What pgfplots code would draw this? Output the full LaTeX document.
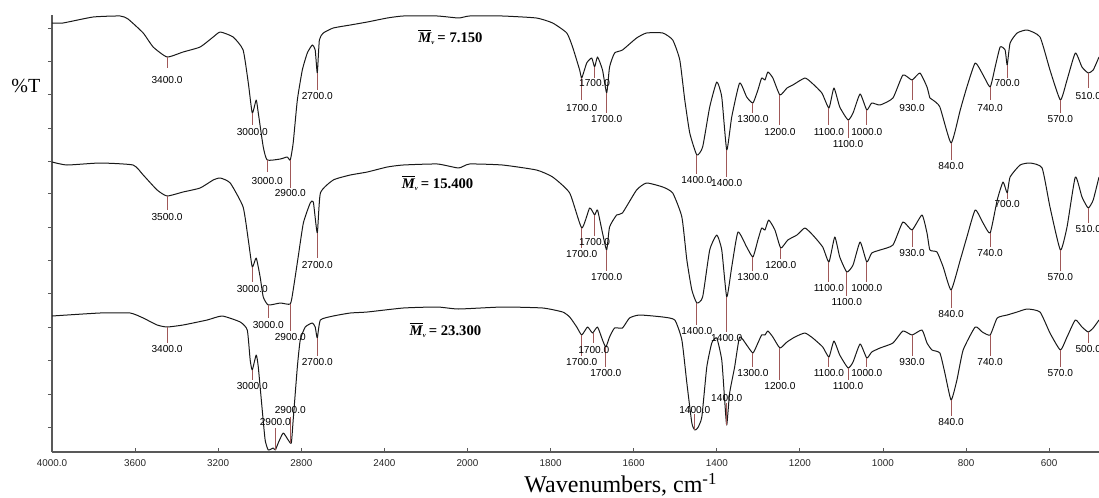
\documentclass[border=0pt]{standalone}
\usepackage{fontspec}
\setmainfont{Liberation Serif}
\newfontfamily\tah{Liberation Sans}
\usepackage{pgfplots}
\pgfplotsset{compat=1.18}
\usepackage{pgfplotstable}
\definecolor{annot}{RGB}{160,88,88}

% trace 1 (Mv = 7.150): wavenumber, offset transmittance
\pgfplotstableread{
w y
4000 429
3947 429
3802 435
3672 436
3634 433
3561 419
3513 405
3446 395
3369 400
3287 405
3224 415
3190 420
3128 415
3080 402
3055 369
3036 339
3017 352
3007 339
2983 305
2964 292
2901 293
2868 295
2853 292
2839 309
2819 352
2795 382
2771 399
2747 407
2733 402
2723 379
2713 412
2694 419
2646 424
2564 427
2482 430
2386 434
2309 436
2145 436
2043 434
1995 436
1916 436
1834 434
1795 429
1761 419
1747 405
1730 382
1725 374
1713 389
1701 394
1694 385
1687 395
1675 382
1665 359
1658 385
1646 399
1627 402
1593 414
1569 419
1530 419
1506 412
1489 392
1477 352
1465 319
1448 297
1434 305
1417 345
1400 370
1388 355
1376 302
1364 335
1345 369
1328 355
1313 349
1301 362
1292 374
1284 372
1277 380
1265 374
1248 357
1231 364
1217 367
1188 374
1171 369
1147 359
1130 344
1118 364
1104 345
1084 332
1072 339
1055 358
1039 342
1027 349
1007 347
976 354
952 377
930 372
911 379
894 365
887 354
880 352
863 345
836 309
814 342
798 365
778 389
759 377
742 365
730 385
718 405
706 402
701 387
694 409
677 419
653 422
622 415
598 382
573 352
557 372
537 399
521 385
506 379
494 382
480 395
}\tA

% trace 2 (Mv = 15.400)
\pgfplotstableread{
w y
4000 290
3928 287
3769 289
3610 287
3561 277
3494 262
3446 256
3369 260
3287 264
3224 272
3190 274
3142 269
3080 245
3055 212
3036 185
3017 194
2998 175
2983 155
2959 147
2901 149
2853 148
2839 162
2815 195
2790 229
2757 249
2742 250
2723 219
2708 259
2646 272
2564 277
2482 280
2386 285
2309 287
2145 288
2043 284
1995 288
1916 287
1834 282
1795 275
1754 259
1725 224
1706 244
1694 237
1687 242
1675 219
1665 202
1658 225
1641 237
1627 239
1593 262
1569 269
1530 265
1506 259
1484 235
1472 192
1460 162
1448 149
1434 155
1417 202
1400 217
1388 202
1376 155
1364 185
1349 220
1328 205
1313 195
1301 212
1292 224
1284 222
1275 232
1260 222
1246 204
1229 212
1207 217
1188 224
1169 217
1145 205
1130 190
1116 215
1104 195
1087 180
1072 187
1055 210
1039 190
1027 199
1007 202
976 207
952 230
930 222
906 237
894 219
887 202
870 200
855 185
836 162
814 192
798 215
778 242
759 229
742 219
725 252
711 270
701 259
694 275
670 287
646 289
617 284
598 245
573 202
557 225
537 275
521 255
506 244
494 252
480 275
}\tB

% trace 3 (Mv = 23.300)
\pgfplotstableread{
w y
4000 136
3769 139
3624 139
3561 134
3494 127
3446 125
3369 127
3253 132
3181 136
3094 130
3060 122
3046 92
3036 82
3017 97
3007 85
2988 42
2974 12
2959 2
2935 4
2925 2
2911 9
2887 19
2863 12
2848 9
2839 32
2819 85
2805 112
2781 125
2747 129
2733 125
2723 114
2708 132
2646 136
2564 139
2482 140
2309 144
2145 145
2043 143
1916 145
1819 144
1771 140
1754 135
1737 125
1725 117
1711 125
1699 119
1687 125
1675 112
1667 105
1658 115
1646 124
1627 124
1610 134
1586 137
1530 135
1501 132
1484 112
1472 69
1460 29
1453 22
1446 24
1436 35
1424 85
1412 109
1400 114
1388 92
1381 52
1376 27
1369 59
1357 85
1345 115
1328 107
1313 99
1301 109
1292 117
1284 117
1277 121
1265 115
1248 104
1231 110
1212 115
1188 119
1169 114
1145 105
1130 95
1118 111
1104 97
1084 84
1072 90
1055 108
1039 94
1027 100
1007 104
976 109
952 121
930 117
906 122
894 109
882 102
863 99
851 79
836 52
822 72
807 102
778 125
761 120
742 117
725 134
701 137
677 140
653 143
622 140
598 119
573 102
557 115
537 132
521 125
506 120
494 124
480 132
}\tC

% peak annotations: position, curve y, line end y, label y, label
\pgfplotstableread{
w t b l lab
3446 395 384 372 3400.0
3036 339 327 320 3000.0
2964 292 280 271 3000.0
2853 292 264 259 2900.0
2723 379 362 356 2700.0
1725 374 352 344 1700.0
1694 385 374 369 1700.0
1665 359 339 333 1700.0
1448 297 278 272 1400.0
1376 302 275 269 1400.0
1313 349 339 333 1300.0
1248 357 327 320 1200.0
1130 344 327 320 1100.0
1084 332 314 308 1100.0
1039 342 327 320 1000.0
930 372 352 344 930.0
836 309 292 286 840.0
742 365 352 344 740.0
701 387 374 369 700.0
573 352 339 333 570.0
506 379 364 356 510.0
3446 256 242 235 3500.0
3036 185 170 163 3000.0
2959 147 134 127 3000.0
2853 148 121 115 2900.0
2723 219 194 187 2700.0
1725 224 204 198 1700.0
1694 237 216 210 1700.0
1665 202 181 175 1700.0
1448 149 127 121 1400.0
1376 155 120 114 1400.0
1313 195 181 175 1300.0
1246 204 193 187 1200.0
1130 190 170 164 1100.0
1087 180 156 150 1100.0
1039 190 170 164 1000.0
930 222 205 199 930.0
836 162 144 138 840.0
742 219 205 199 740.0
701 259 253 248 700.0
573 202 181 175 570.0
506 244 229 223 510.0
3446 125 109 103 3400.0
3036 82 72 66 3000.0
2925 2 24 30 2900.0
2853 9 35 42 2900.0
2723 114 96 90 2700.0
1725 117 96 90 1700.0
1696 119 109 102 1700.0
1667 105 85 79 1700.0
1453 22 38 42 1400.0
1376 27 49 54 1400.0
1313 99 85 79 1300.0
1248 104 72 66 1200.0
1130 95 85 79 1100.0
1084 84 72 66 1100.0
1039 94 85 79 1000.0
930 117 96 90 930.0
836 52 36 30 840.0
742 117 96 90 740.0
573 102 85 79 570.0
506 120 109 103 500.0
}\annot

% axis position: 4000-2000 at 400 per step, 2000-600 at 200 per step
\newcommand{\wx}{\thisrow{w}>=2000 ? (4000-\thisrow{w})/2 : 3000-\thisrow{w}}

\begin{document}
\begin{tikzpicture}
\begin{axis}[
  name=ax,
  scale only axis,
  width=785.25pt, height=327.75pt,
  xmin=0, xmax=2520, ymin=0, ymax=437,
  axis x line*=bottom, axis y line*=left,
  axis line style={draw=black!65, line width=0.9pt},
  xtick={0,200,...,2400},
  xticklabels={4000.0,3600,3200,2800,2400,2000,1800,1600,1400,1200,1000,800,600},
  ytick={25,58,92,125,159,192,225,259,291,324,358,391,424},
  yticklabels={},
  tick align=inside,
  major tick length=3pt,
  tick style={draw=black!65, line width=0.6pt},
  y tick style={xshift=-3pt},
  xticklabel style={font=\tah\fontsize{7.4}{8}\selectfont, text=black!85, yshift=-2pt},
  clip=false,
]
\addplot[black!90, line width=0.75pt, smooth, tension=0.3, line join=round] table[x expr={\wx}, y=y]{\tA};
\addplot[black!90, line width=0.75pt, smooth, tension=0.3, line join=round] table[x expr={\wx}, y=y]{\tB};
\addplot[black!90, line width=0.75pt, smooth, tension=0.3, line join=round] table[x expr={\wx}, y=y]{\tC};

\addplot[draw=none, mark=none, error bars/.cd, y dir=both, y explicit, error mark=none,
  error bar style={draw=annot, line width=0.7pt}]
  table[x expr={\wx}, y expr={(\thisrow{t}+\thisrow{b})/2}, y error expr={abs(\thisrow{t}-\thisrow{b})/2}]{\annot};

\addplot[draw=none, mark=none, nodes near coords, point meta=explicit symbolic,
  nodes near coords style={anchor=center, inner sep=0pt, text=black, font=\tah\fontsize{7.6}{8}\selectfont}]
  table[x expr={\wx}, y=l, meta=lab]{\annot};

\node[font=\fontsize{11}{13}\selectfont] at (axis cs:959,415) {$\overline{\mbox{\bfseries\itshape M}}_{\mbox{\tiny\bfseries\itshape v}}$\,\textbf{= 7.150}};
\node[font=\fontsize{11}{13}\selectfont] at (axis cs:928,269) {$\overline{\mbox{\bfseries\itshape M}}_{\mbox{\tiny\bfseries\itshape v}}$\,\textbf{= 15.400}};
\node[font=\fontsize{11}{13}\selectfont] at (axis cs:947,122) {$\overline{\mbox{\bfseries\itshape M}}_{\mbox{\tiny\bfseries\itshape v}}$\,\textbf{= 23.300}};

\node[font=\fontsize{15}{17}\selectfont] at (axis cs:-63,366) {\%T};
\node[font=\fontsize{18}{20}\selectfont] at (axis cs:1369,-33) {Wavenumbers, cm\textsuperscript{-1}};
\end{axis}
\pgfresetboundingbox
\path ([shift={(-39pt,-33.75pt)}]ax.south west) rectangle ([shift={(0pt,11.25pt)}]ax.north east);
\end{tikzpicture}
\end{document}
